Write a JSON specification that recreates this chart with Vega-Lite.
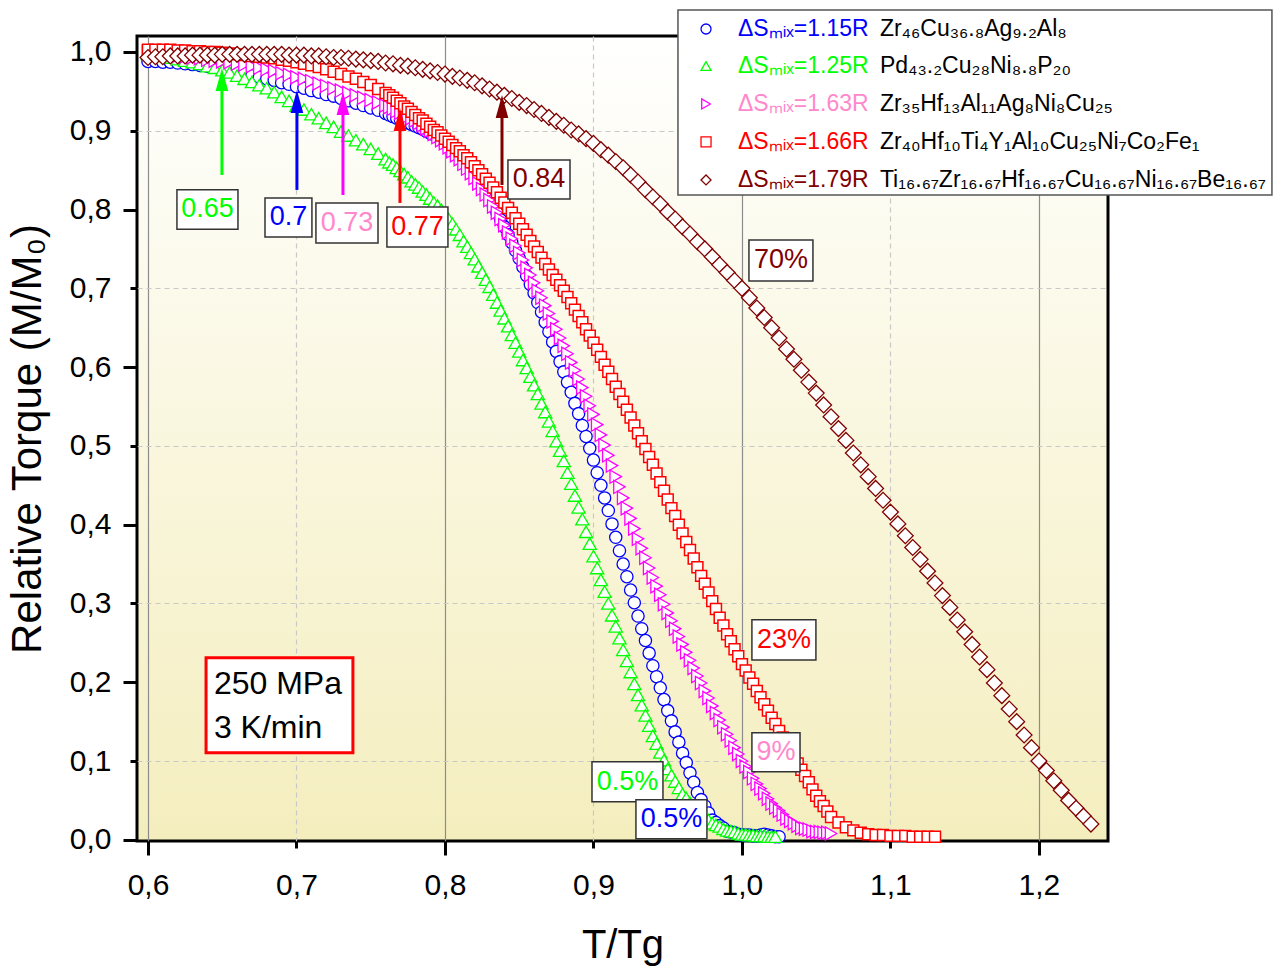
{
"$schema":"https://vega.github.io/schema/vega-lite/v6.json",
"width":971,"height":805,
"autosize":{"type":"none"},
"padding":{"left":137,"top":36,"right":172,"bottom":126},
"background":"#ffffff",
"config":{
 "view":{"stroke":"#000000","strokeWidth":3,"fill":{"gradient":"linear","x1":0,"y1":0,"x2":0,"y2":1,"stops":[{"offset":0,"color":"#ffffff"},{"offset":1,"color":"#f4eebe"}]}},
 "font":"Liberation Sans",
 "legend":{"disable":true},
 "axis":{"labelFont":"Liberation Sans","labelFontSize":30,"labelColor":"#000000","titleFont":"Liberation Sans","titleFontSize":40,"titleFontWeight":"normal","titleColor":"#000000","tickColor":"#000000","tickWidth":3,"domain":false,"grid":true,"gridWidth":1.2,"labelOverlap":false,"labelFlush":false}
},
"datasets":{
"curves":[
{"x":0.600,"B":0.988,"G":0.998,"M":1.000,"R":1.003,"D":0.993},
{"x":0.605,"B":0.988,"G":0.997,"M":0.999,"R":1.003,"D":0.994},
{"x":0.610,"B":0.987,"G":0.995,"M":0.998,"R":1.003,"D":0.994},
{"x":0.615,"B":0.987,"G":0.993,"M":0.997,"R":1.003,"D":0.995},
{"x":0.620,"B":0.986,"G":0.991,"M":0.995,"R":1.002,"D":0.995},
{"x":0.625,"B":0.985,"G":0.989,"M":0.994,"R":1.002,"D":0.995},
{"x":0.630,"B":0.984,"G":0.987,"M":0.993,"R":1.001,"D":0.996},
{"x":0.635,"B":0.983,"G":0.985,"M":0.992,"R":1.001,"D":0.996},
{"x":0.640,"B":0.982,"G":0.982,"M":0.990,"R":1.000,"D":0.996},
{"x":0.645,"B":0.981,"G":0.980,"M":0.989,"R":1.000,"D":0.996},
{"x":0.650,"B":0.979,"G":0.977,"M":0.988,"R":0.999,"D":0.997},
{"x":0.655,"B":0.977,"G":0.974,"M":0.987,"R":0.998,"D":0.997},
{"x":0.660,"B":0.975,"G":0.970,"M":0.985,"R":0.997,"D":0.997},
{"x":0.665,"B":0.973,"G":0.966,"M":0.984,"R":0.996,"D":0.997},
{"x":0.670,"B":0.970,"G":0.962,"M":0.982,"R":0.995,"D":0.997},
{"x":0.675,"B":0.968,"G":0.958,"M":0.980,"R":0.994,"D":0.997},
{"x":0.680,"B":0.966,"G":0.954,"M":0.978,"R":0.993,"D":0.997},
{"x":0.685,"B":0.964,"G":0.949,"M":0.976,"R":0.992,"D":0.997},
{"x":0.690,"B":0.961,"G":0.943,"M":0.973,"R":0.990,"D":0.997},
{"x":0.695,"B":0.959,"G":0.938,"M":0.971,"R":0.989,"D":0.996},
{"x":0.700,"B":0.956,"G":0.932,"M":0.968,"R":0.987,"D":0.996},
{"x":0.705,"B":0.954,"G":0.927,"M":0.966,"R":0.985,"D":0.996},
{"x":0.710,"B":0.951,"G":0.921,"M":0.963,"R":0.983,"D":0.995},
{"x":0.715,"B":0.949,"G":0.916,"M":0.960,"R":0.981,"D":0.995},
{"x":0.720,"B":0.946,"G":0.910,"M":0.957,"R":0.978,"D":0.994},
{"x":0.725,"B":0.944,"G":0.905,"M":0.954,"R":0.975,"D":0.993},
{"x":0.730,"B":0.941,"G":0.899,"M":0.951,"R":0.972,"D":0.993},
{"x":0.735,"B":0.938,"G":0.894,"M":0.948,"R":0.969,"D":0.992},
{"x":0.740,"B":0.935,"G":0.888,"M":0.945,"R":0.966,"D":0.991},
{"x":0.745,"B":0.932,"G":0.883,"M":0.942,"R":0.962,"D":0.990},
{"x":0.750,"B":0.929,"G":0.877,"M":0.939,"R":0.958,"D":0.989},
{"x":0.755,"B":0.926,"G":0.871,"M":0.936,"R":0.953,"D":0.988},
{"x":0.7600,"B":0.922,"G":0.864,"M":0.932,"R":0.948,"D":0.986},
{"x":0.7625,"B":0.920,"G":0.860,"M":0.930,"R":0.945},
{"x":0.7650,"B":0.918,"G":0.857,"M":0.928,"R":0.942,"D":0.985},
{"x":0.7675,"B":0.916,"G":0.853,"M":0.925,"R":0.938},
{"x":0.7700,"B":0.914,"G":0.849,"M":0.923,"R":0.935,"D":0.983},
{"x":0.7725,"B":0.912,"G":0.845,"M":0.921,"R":0.931},
{"x":0.7750,"B":0.910,"G":0.841,"M":0.918,"R":0.928,"D":0.982},
{"x":0.7775,"B":0.908,"G":0.836,"M":0.916,"R":0.924},
{"x":0.7800,"B":0.906,"G":0.832,"M":0.913,"R":0.920,"D":0.980},
{"x":0.7825,"B":0.904,"G":0.828,"M":0.910,"R":0.916},
{"x":0.7850,"B":0.902,"G":0.823,"M":0.907,"R":0.913,"D":0.978},
{"x":0.7875,"B":0.899,"G":0.819,"M":0.903,"R":0.909},
{"x":0.7900,"B":0.897,"G":0.814,"M":0.900,"R":0.905,"D":0.976},
{"x":0.7925,"B":0.895,"G":0.809,"M":0.896,"R":0.901},
{"x":0.7950,"B":0.892,"G":0.805,"M":0.892,"R":0.898,"D":0.974},
{"x":0.7975,"B":0.890,"G":0.800,"M":0.888,"R":0.894},
{"x":0.8000,"B":0.887,"G":0.795,"M":0.884,"R":0.890,"D":0.972},
{"x":0.8025,"B":0.882,"G":0.788,"M":0.879,"R":0.886},
{"x":0.8050,"B":0.878,"G":0.782,"M":0.874,"R":0.882,"D":0.969},
{"x":0.8075,"B":0.873,"G":0.775,"M":0.869,"R":0.878},
{"x":0.8100,"B":0.868,"G":0.768,"M":0.864,"R":0.874,"D":0.967},
{"x":0.8125,"B":0.862,"G":0.760,"M":0.858,"R":0.869},
{"x":0.8150,"B":0.856,"G":0.753,"M":0.852,"R":0.865,"D":0.964},
{"x":0.8175,"B":0.850,"G":0.745,"M":0.846,"R":0.860},
{"x":0.8200,"B":0.844,"G":0.737,"M":0.840,"R":0.855,"D":0.961},
{"x":0.8225,"B":0.837,"G":0.728,"M":0.833,"R":0.850},
{"x":0.8250,"B":0.829,"G":0.720,"M":0.826,"R":0.845,"D":0.957},
{"x":0.8275,"B":0.822,"G":0.711,"M":0.819,"R":0.839},
{"x":0.8300,"B":0.814,"G":0.702,"M":0.812,"R":0.834,"D":0.953},
{"x":0.8325,"B":0.805,"G":0.692,"M":0.804,"R":0.828},
{"x":0.8350,"B":0.796,"G":0.682,"M":0.796,"R":0.822,"D":0.949},
{"x":0.8375,"B":0.787,"G":0.672,"M":0.788,"R":0.815},
{"x":0.8400,"B":0.778,"G":0.662,"M":0.780,"R":0.809,"D":0.945},
{"x":0.8425,"B":0.768,"G":0.652,"M":0.771,"R":0.802},
{"x":0.8450,"B":0.758,"G":0.641,"M":0.763,"R":0.796,"D":0.941},
{"x":0.8475,"B":0.748,"G":0.631,"M":0.754,"R":0.789},
{"x":0.8500,"B":0.738,"G":0.620,"M":0.745,"R":0.782,"D":0.936},
{"x":0.8525,"B":0.727,"G":0.609,"M":0.736,"R":0.775},
{"x":0.8550,"B":0.716,"G":0.599,"M":0.726,"R":0.768,"D":0.932},
{"x":0.8575,"B":0.705,"G":0.588,"M":0.717,"R":0.760},
{"x":0.8600,"B":0.694,"G":0.577,"M":0.707,"R":0.753,"D":0.927},
{"x":0.8625,"B":0.682,"G":0.566,"M":0.697,"R":0.746},
{"x":0.8650,"B":0.670,"G":0.554,"M":0.688,"R":0.739,"D":0.922},
{"x":0.8675,"B":0.657,"G":0.543,"M":0.678,"R":0.731},
{"x":0.8700,"B":0.645,"G":0.531,"M":0.668,"R":0.724,"D":0.917},
{"x":0.8725,"B":0.632,"G":0.519,"M":0.658,"R":0.717},
{"x":0.8750,"B":0.620,"G":0.506,"M":0.648,"R":0.711,"D":0.912},
{"x":0.8775,"B":0.607,"G":0.494,"M":0.637,"R":0.704},
{"x":0.8800,"B":0.594,"G":0.481,"M":0.627,"R":0.697,"D":0.907},
{"x":0.8825,"B":0.581,"G":0.466,"M":0.617,"R":0.689},
{"x":0.8850,"B":0.568,"G":0.452,"M":0.606,"R":0.681,"D":0.901},
{"x":0.8875,"B":0.554,"G":0.437,"M":0.596,"R":0.673},
{"x":0.8900,"B":0.541,"G":0.422,"M":0.585,"R":0.665,"D":0.896},
{"x":0.8925,"B":0.526,"G":0.407,"M":0.574,"R":0.657},
{"x":0.8950,"B":0.512,"G":0.391,"M":0.563,"R":0.648,"D":0.890},
{"x":0.8975,"B":0.497,"G":0.376,"M":0.551,"R":0.640},
{"x":0.9000,"B":0.482,"G":0.360,"M":0.540,"R":0.631,"D":0.884},
{"x":0.9025,"B":0.466,"G":0.345,"M":0.527,"R":0.622},
{"x":0.9050,"B":0.450,"G":0.330,"M":0.514,"R":0.613,"D":0.876},
{"x":0.9075,"B":0.434,"G":0.315,"M":0.501,"R":0.603},
{"x":0.9100,"B":0.418,"G":0.300,"M":0.488,"R":0.594,"D":0.869},
{"x":0.9125,"B":0.401,"G":0.285,"M":0.475,"R":0.585},
{"x":0.9150,"B":0.384,"G":0.271,"M":0.461,"R":0.575,"D":0.861},
{"x":0.9175,"B":0.367,"G":0.256,"M":0.448,"R":0.566},
{"x":0.9200,"B":0.350,"G":0.241,"M":0.434,"R":0.556,"D":0.853},
{"x":0.9225,"B":0.334,"G":0.227,"M":0.421,"R":0.546},
{"x":0.9250,"B":0.317,"G":0.213,"M":0.408,"R":0.536,"D":0.844},
{"x":0.9275,"B":0.301,"G":0.198,"M":0.395,"R":0.526},
{"x":0.9300,"B":0.284,"G":0.184,"M":0.382,"R":0.516,"D":0.835},
{"x":0.9325,"B":0.268,"G":0.171,"M":0.370,"R":0.506},
{"x":0.9350,"B":0.253,"G":0.158,"M":0.358,"R":0.496,"D":0.825},
{"x":0.9375,"B":0.237,"G":0.145,"M":0.345,"R":0.486},
{"x":0.9400,"B":0.221,"G":0.132,"M":0.333,"R":0.476,"D":0.816},
{"x":0.9425,"B":0.207,"G":0.122,"M":0.322,"R":0.465},
{"x":0.9450,"B":0.193,"G":0.111,"M":0.311,"R":0.454,"D":0.807},
{"x":0.9475,"B":0.178,"G":0.101,"M":0.299,"R":0.443},
{"x":0.9500,"B":0.164,"G":0.090,"M":0.288,"R":0.432,"D":0.797},
{"x":0.9525,"B":0.151,"G":0.082,"M":0.278,"R":0.421},
{"x":0.9550,"B":0.137,"G":0.074,"M":0.268,"R":0.411,"D":0.788},
{"x":0.9575,"B":0.124,"G":0.066,"M":0.258,"R":0.400},
{"x":0.9600,"B":0.110,"G":0.058,"M":0.248,"R":0.389,"D":0.778},
{"x":0.9625,"B":0.098,"G":0.053,"M":0.238,"R":0.378},
{"x":0.9650,"B":0.085,"G":0.047,"M":0.228,"R":0.368,"D":0.769},
{"x":0.9675,"B":0.073,"G":0.042,"M":0.218,"R":0.357},
{"x":0.9700,"B":0.060,"G":0.036,"M":0.208,"R":0.346,"D":0.759},
{"x":0.9725,"B":0.051,"G":0.032,"M":0.199,"R":0.335},
{"x":0.9750,"B":0.043,"G":0.029,"M":0.189,"R":0.325,"D":0.750},
{"x":0.9775,"B":0.034,"G":0.025,"M":0.180,"R":0.314},
{"x":0.9800,"B":0.025,"G":0.021,"M":0.170,"R":0.303,"D":0.740},
{"x":0.9825,"B":0.022,"G":0.019,"M":0.161,"R":0.293},
{"x":0.9850,"B":0.018,"G":0.017,"M":0.152,"R":0.282,"D":0.730},
{"x":0.9875,"B":0.015,"G":0.014,"M":0.143,"R":0.272},
{"x":0.9900,"B":0.011,"G":0.012,"M":0.134,"R":0.261,"D":0.720},
{"x":0.9925,"B":0.010,"G":0.011,"M":0.126,"R":0.252},
{"x":0.9950,"B":0.009,"G":0.010,"M":0.117,"R":0.242,"D":0.710},
{"x":0.9975,"B":0.007,"G":0.008,"M":0.109,"R":0.233},
{"x":1.0000,"B":0.006,"G":0.007,"M":0.100,"R":0.223,"D":0.700},
{"x":1.0025,"B":0.006,"G":0.007,"M":0.093,"R":0.215},
{"x":1.0050,"B":0.006,"G":0.006,"M":0.086,"R":0.206,"D":0.688},
{"x":1.0075,"B":0.005,"G":0.006,"M":0.078,"R":0.198},
{"x":1.0100,"B":0.005,"G":0.005,"M":0.071,"R":0.189,"D":0.675},
{"x":1.0125,"B":0.006,"G":0.005,"M":0.065,"R":0.181},
{"x":1.0150,"B":0.007,"G":0.005,"M":0.059,"R":0.172,"D":0.663},
{"x":1.0175,"B":0.006,"G":0.004,"M":0.052,"R":0.164},
{"x":1.0200,"B":0.005,"G":0.004,"M":0.046,"R":0.155,"D":0.650},
{"x":1.0225,"B":0.004,"G":0.004,"M":0.041,"R":0.147},
{"x":1.0250,"B":0.004,"M":0.037,"R":0.138,"D":0.637},
{"x":1.0275,"M":0.032,"R":0.130},
{"x":1.0300,"M":0.027,"R":0.121,"D":0.623},
{"x":1.0325,"M":0.024,"R":0.113},
{"x":1.0350,"M":0.021,"R":0.105,"D":0.610},
{"x":1.0375,"M":0.018,"R":0.097},
{"x":1.0400,"M":0.015,"R":0.089,"D":0.596},
{"x":1.0425,"M":0.014,"R":0.081},
{"x":1.0450,"M":0.013,"R":0.073,"D":0.581},
{"x":1.0475,"M":0.011,"R":0.064},
{"x":1.0500,"M":0.010,"R":0.056,"D":0.567},
{"x":1.0525,"M":0.010,"R":0.049},
{"x":1.0550,"M":0.009,"R":0.043,"D":0.552},
{"x":1.0575,"M":0.009,"R":0.036},
{"x":1.060,"M":0.008,"R":0.029,"D":0.537},
{"x":1.065,"R":0.022,"D":0.522},
{"x":1.070,"R":0.016,"D":0.507},
{"x":1.075,"R":0.012,"D":0.491},
{"x":1.080,"R":0.009,"D":0.476},
{"x":1.085,"R":0.007,"D":0.461},
{"x":1.090,"R":0.006,"D":0.446},
{"x":1.095,"R":0.006,"D":0.431},
{"x":1.100,"R":0.005,"D":0.416},
{"x":1.105,"R":0.005,"D":0.401},
{"x":1.110,"R":0.005,"D":0.386},
{"x":1.115,"R":0.004,"D":0.371},
{"x":1.120,"R":0.004,"D":0.356},
{"x":1.125,"R":0.004,"D":0.341},
{"x":1.130,"R":0.004,"D":0.326},
{"x":1.135,"D":0.310},
{"x":1.140,"D":0.295},
{"x":1.145,"D":0.279},
{"x":1.150,"D":0.264},
{"x":1.155,"D":0.248},
{"x":1.160,"D":0.232},
{"x":1.165,"D":0.216},
{"x":1.170,"D":0.199},
{"x":1.175,"D":0.183},
{"x":1.180,"D":0.166},
{"x":1.185,"D":0.150},
{"x":1.190,"D":0.133},
{"x":1.195,"D":0.117},
{"x":1.200,"D":0.100},
{"x":1.205,"D":0.088},
{"x":1.210,"D":0.075},
{"x":1.215,"D":0.063},
{"x":1.220,"D":0.050},
{"x":1.225,"D":0.040},
{"x":1.230,"D":0.030},
{"x":1.235,"D":0.020}
],
"arrows":[
{"k":"G","x":0.6498,"yb":0.8439,"ym":0.962,"yt":0.9797},
{"k":"B","x":0.7003,"yb":0.8249,"ym":0.934,"yt":0.9518},
{"k":"M","x":0.7313,"yb":0.8185,"ym":0.931,"yt":0.9492},
{"k":"R","x":0.7697,"yb":0.8084,"ym":0.911,"yt":0.9289},
{"k":"D","x":0.8384,"yb":0.8312,"ym":0.927,"yt":0.9454}
],
"labels":[
{"t":"0.65","k":"G","x":0.6401,"y":0.8001,"xa":0.6195,"xb":0.6606,"ya":0.775,"yb":0.825},
{"t":"0.7","k":"B","x":0.6946,"y":0.790,"xa":0.6788,"xb":0.7104,"ya":0.7652,"yb":0.8147},
{"t":"0.73","k":"P","x":0.734,"y":0.783,"xa":0.7131,"xb":0.7549,"ya":0.7576,"yb":0.8084},
{"t":"0.77","k":"R","x":0.7815,"y":0.7779,"xa":0.7609,"xb":0.8020,"ya":0.7525,"yb":0.8033},
{"t":"0.84","k":"D","x":0.8633,"y":0.8382,"xa":0.8424,"xb":0.8842,"ya":0.8135,"yb":0.8629},
{"t":"70%","k":"D","x":1.0263,"y":0.7354,"xa":1.0047,"xb":1.0478,"ya":0.7094,"yb":0.7614},
{"t":"23%","k":"R","x":1.0283,"y":0.2538,"xa":1.0067,"xb":1.0498,"ya":0.2284,"yb":0.2792},
{"t":"9%","k":"P","x":1.0229,"y":0.1110,"xa":1.0067,"xb":1.0391,"ya":0.0863,"yb":0.1358},
{"t":"0.5%","k":"G","x":0.9229,"y":0.0736,"xa":0.899,"xb":0.9468,"ya":0.0482,"yb":0.099},
{"t":"0.5%","k":"B","x":0.9525,"y":0.026,"xa":0.9286,"xb":0.9764,"ya":0.0013,"yb":0.0508}
],
"info":[{"t":"250 MPa","y":0.198},{"t":"3 K/min","y":0.1421}],
"infobox":[{"xa":0.6391,"xb":0.7380,"ya":0.1104,"yb":0.231}],
"legbox":[{"xa":0.9569,"xb":1.3569,"ya":0.8185,"yb":1.0533}],
"legend":[
{"k":"B","tk":"B","y":1.0292,"lab":"ΔSₘᵢₓ=1.15R","f":"Zr₄₆Cu₃₆.₈Ag₉.₂Al₈"},
{"k":"G","tk":"G","y":0.9822,"lab":"ΔSₘᵢₓ=1.25R","f":"Pd₄₃.₂Cu₂₈Ni₈.₈P₂₀"},
{"k":"M","tk":"P","y":0.934,"lab":"ΔSₘᵢₓ=1.63R","f":"Zr₃₅Hf₁₃Al₁₁Ag₈Ni₈Cu₂₅"},
{"k":"R","tk":"R","y":0.8858,"lab":"ΔSₘᵢₓ=1.66R","f":"Zr₄₀Hf₁₀Ti₄Y₁Al₁₀Cu₂₅Ni₇Co₂Fe₁"},
{"k":"D","tk":"D","y":0.8376,"lab":"ΔSₘᵢₓ=1.79R","f":"Ti₁₆.₆₇Zr₁₆.₆₇Hf₁₆.₆₇Cu₁₆.₆₇Ni₁₆.₆₇Be₁₆.₆₇"}
]
},
"layer":[
{"data":{"name":"curves"},"transform":[{"filter":"isValid(datum.B)"}],
 "mark":{"type":"point","shape":"circle","size":150,"fill":"#ffffff","stroke":"#0000ff","strokeWidth":1.3,"opacity":1},
 "encoding":{
  "x":{"field":"x","type":"quantitative","title":"T/Tg","scale":{"domain":[0.5926,1.2465],"nice":false,"zero":false},
   "axis":{"values":[0.6,0.7,0.8,0.9,1.0,1.1,1.2],"labelExpr":"replace(format(datum.value,'.1f'),'.',',')",
    "tickSize":{"condition":{"test":"round(datum.value*10)%2==0","value":14},"value":7},
    "labelPadding":{"condition":{"test":"round(datum.value*10)%2==0","value":15},"value":22},
    "gridColor":{"condition":{"test":"round(datum.value*10)%2==0","value":"#8c8c8c"},"value":"#c8c8c8"},
    "gridDash":{"condition":{"test":"round(datum.value*10)%2==0","value":[]},"value":[5,4]},
    "titlePadding":25}},
  "y":{"field":"B","type":"quantitative","title":"Relative Torque (M/M₀)","scale":{"domain":[-0.0015,1.0203],"nice":false,"zero":false},
   "axis":{"values":[0,0.1,0.2,0.3,0.4,0.5,0.6,0.7,0.8,0.9,1.0],"labelExpr":"replace(format(datum.value,'.1f'),'.',',')",
    "tickSize":{"condition":{"test":"round(datum.value*10)%2==0","value":14},"value":7},
    "labelPadding":{"condition":{"test":"round(datum.value*10)%2==0","value":12},"value":19},
    "gridColor":"#c8c8c8","gridDash":[5,4],
    "gridOpacity":{"condition":{"test":"round(datum.value*10)%2==1","value":1},"value":0},
    "titleFontSize":42,"titlePadding":20}}
 }},
{"data":{"name":"curves"},"transform":[{"filter":"isValid(datum.G)"}],
 "mark":{"type":"point","shape":"triangle-up","size":175,"fill":"#ffffff","stroke":"#00ff00","strokeWidth":1.3,"opacity":1},
 "encoding":{"x":{"field":"x","type":"quantitative","title":"T/Tg","scale":{"domain":[0.5926,1.2465],"nice":false,"zero":false}},
  "y":{"field":"G","type":"quantitative","title":"Relative Torque (M/M₀)","scale":{"domain":[-0.0015,1.0203],"nice":false,"zero":false}}}},
{"data":{"name":"curves"},"transform":[{"filter":"isValid(datum.M)"}],
 "mark":{"type":"point","shape":"triangle-right","size":175,"fill":"#ffffff","stroke":"#ff00ff","strokeWidth":1.3,"opacity":1},
 "encoding":{"x":{"field":"x","type":"quantitative","title":"T/Tg","scale":{"domain":[0.5926,1.2465],"nice":false,"zero":false}},
  "y":{"field":"M","type":"quantitative","title":"Relative Torque (M/M₀)","scale":{"domain":[-0.0015,1.0203],"nice":false,"zero":false}}}},
{"data":{"name":"curves"},"transform":[{"filter":"isValid(datum.R)"}],
 "mark":{"type":"point","shape":"square","size":120,"fill":"#ffffff","stroke":"#ff0000","strokeWidth":1.5,"opacity":1},
 "encoding":{"x":{"field":"x","type":"quantitative","title":"T/Tg","scale":{"domain":[0.5926,1.2465],"nice":false,"zero":false}},
  "y":{"field":"R","type":"quantitative","title":"Relative Torque (M/M₀)","scale":{"domain":[-0.0015,1.0203],"nice":false,"zero":false}}}},
{"data":{"name":"curves"},"transform":[{"filter":"isValid(datum.D)"}],
 "mark":{"type":"point","shape":"diamond","size":250,"fill":"#ffffff","stroke":"#800000","strokeWidth":1.3,"opacity":1},
 "encoding":{"x":{"field":"x","type":"quantitative","title":"T/Tg","scale":{"domain":[0.5926,1.2465],"nice":false,"zero":false}},
  "y":{"field":"D","type":"quantitative","title":"Relative Torque (M/M₀)","scale":{"domain":[-0.0015,1.0203],"nice":false,"zero":false}}}},
{"data":{"name":"arrows"},
 "mark":{"type":"rule","strokeWidth":3},
 "encoding":{"x":{"field":"x","type":"quantitative","title":"T/Tg","scale":{"domain":[0.5926,1.2465],"nice":false,"zero":false}},
  "y":{"field":"yb","type":"quantitative","title":"Relative Torque (M/M₀)","scale":{"domain":[-0.0015,1.0203],"nice":false,"zero":false}},
  "y2":{"field":"ym"},
  "color":{"field":"k","type":"nominal","legend":null,"scale":{"domain":["B","G","M","P","R","D","K"],"range":["#0000ff","#00ff00","#ff00ff","#ff88cc","#ff0000","#800000","#000000"]}}}},
{"data":{"name":"arrows"},
 "mark":{"type":"point","shape":"M0,0L0.55,2L-0.55,2Z","size":529,"filled":true,"opacity":1,"strokeWidth":0},
 "encoding":{"x":{"field":"x","type":"quantitative","title":"T/Tg","scale":{"domain":[0.5926,1.2465],"nice":false,"zero":false}},
  "y":{"field":"yt","type":"quantitative","title":"Relative Torque (M/M₀)","scale":{"domain":[-0.0015,1.0203],"nice":false,"zero":false}},
  "color":{"field":"k","type":"nominal","legend":null,"scale":{"domain":["B","G","M","P","R","D","K"],"range":["#0000ff","#00ff00","#ff00ff","#ff88cc","#ff0000","#800000","#000000"]}}}},
{"data":{"name":"labels"},
 "mark":{"type":"rect","fill":"#ffffff","stroke":"#333333","strokeWidth":1.5},
 "encoding":{"x":{"field":"xa","type":"quantitative","title":"T/Tg","scale":{"domain":[0.5926,1.2465],"nice":false,"zero":false}},"x2":{"field":"xb"},
  "y":{"field":"ya","type":"quantitative","title":"Relative Torque (M/M₀)","scale":{"domain":[-0.0015,1.0203],"nice":false,"zero":false}},"y2":{"field":"yb"}}},
{"data":{"name":"labels"},
 "mark":{"type":"text","fontSize":27,"font":"Liberation Sans","align":"center","baseline":"middle"},
 "encoding":{"x":{"field":"x","type":"quantitative","title":"T/Tg","scale":{"domain":[0.5926,1.2465],"nice":false,"zero":false}},
  "y":{"field":"y","type":"quantitative","title":"Relative Torque (M/M₀)","scale":{"domain":[-0.0015,1.0203],"nice":false,"zero":false}},
  "text":{"field":"t"},
  "color":{"field":"k","type":"nominal","legend":null,"scale":{"domain":["B","G","M","P","R","D","K"],"range":["#0000ff","#00ff00","#ff00ff","#ff88cc","#ff0000","#800000","#000000"]}}}},
{"data":{"name":"infobox"},
 "mark":{"type":"rect","fill":"#ffffff","stroke":"#ff0000","strokeWidth":3},
 "encoding":{"x":{"field":"xa","type":"quantitative","title":"T/Tg","scale":{"domain":[0.5926,1.2465],"nice":false,"zero":false}},"x2":{"field":"xb"},
  "y":{"field":"ya","type":"quantitative","title":"Relative Torque (M/M₀)","scale":{"domain":[-0.0015,1.0203],"nice":false,"zero":false}},"y2":{"field":"yb"}}},
{"data":{"name":"info"},
 "mark":{"type":"text","fontSize":32,"font":"Liberation Sans","align":"left","baseline":"middle","color":"#000000"},
 "encoding":{"x":{"datum":0.6444,"type":"quantitative","scale":{"domain":[0.5926,1.2465],"nice":false,"zero":false}},
  "y":{"field":"y","type":"quantitative","title":"Relative Torque (M/M₀)","scale":{"domain":[-0.0015,1.0203],"nice":false,"zero":false}},
  "text":{"field":"t"}}},
{"data":{"name":"legbox"},
 "mark":{"type":"rect","fill":"#ffffff","stroke":"#555555","strokeWidth":1.5},
 "encoding":{"x":{"field":"xa","type":"quantitative","title":"T/Tg","scale":{"domain":[0.5926,1.2465],"nice":false,"zero":false}},"x2":{"field":"xb"},
  "y":{"field":"ya","type":"quantitative","title":"Relative Torque (M/M₀)","scale":{"domain":[-0.0015,1.0203],"nice":false,"zero":false}},"y2":{"field":"yb"}}},
{"data":{"name":"legend"},
 "mark":{"type":"point","size":100,"fill":"#ffffff","strokeWidth":1.3,"opacity":1},
 "encoding":{"x":{"datum":0.9758,"type":"quantitative","scale":{"domain":[0.5926,1.2465],"nice":false,"zero":false}},
  "y":{"field":"y","type":"quantitative","title":"Relative Torque (M/M₀)","scale":{"domain":[-0.0015,1.0203],"nice":false,"zero":false}},
  "shape":{"field":"k","type":"nominal","legend":null,"scale":{"domain":["B","G","M","R","D"],"range":["circle","triangle-up","triangle-right","square","diamond"]}},
  "stroke":{"field":"k","type":"nominal","legend":null,"scale":{"domain":["B","G","M","R","D"],"range":["#0000ff","#00ff00","#ff00ff","#ff0000","#800000"]}}}},
{"data":{"name":"legend"},
 "mark":{"type":"text","fontSize":23,"font":"Liberation Sans","align":"left","baseline":"middle"},
 "encoding":{"x":{"datum":0.9973,"type":"quantitative","scale":{"domain":[0.5926,1.2465],"nice":false,"zero":false}},
  "y":{"field":"y","type":"quantitative","title":"Relative Torque (M/M₀)","scale":{"domain":[-0.0015,1.0203],"nice":false,"zero":false}},
  "text":{"field":"lab"},
  "color":{"field":"tk","type":"nominal","legend":null,"scale":{"domain":["B","G","M","P","R","D","K"],"range":["#0000ff","#00ff00","#ff00ff","#ff88cc","#ff0000","#800000","#000000"]}}}},
{"data":{"name":"legend"},
 "mark":{"type":"text","fontSize":23,"font":"Liberation Sans","align":"left","baseline":"middle","color":"#000000"},
 "encoding":{"x":{"datum":1.0929,"type":"quantitative","scale":{"domain":[0.5926,1.2465],"nice":false,"zero":false}},
  "y":{"field":"y","type":"quantitative","title":"Relative Torque (M/M₀)","scale":{"domain":[-0.0015,1.0203],"nice":false,"zero":false}},
  "text":{"field":"f"}}}
]
}
